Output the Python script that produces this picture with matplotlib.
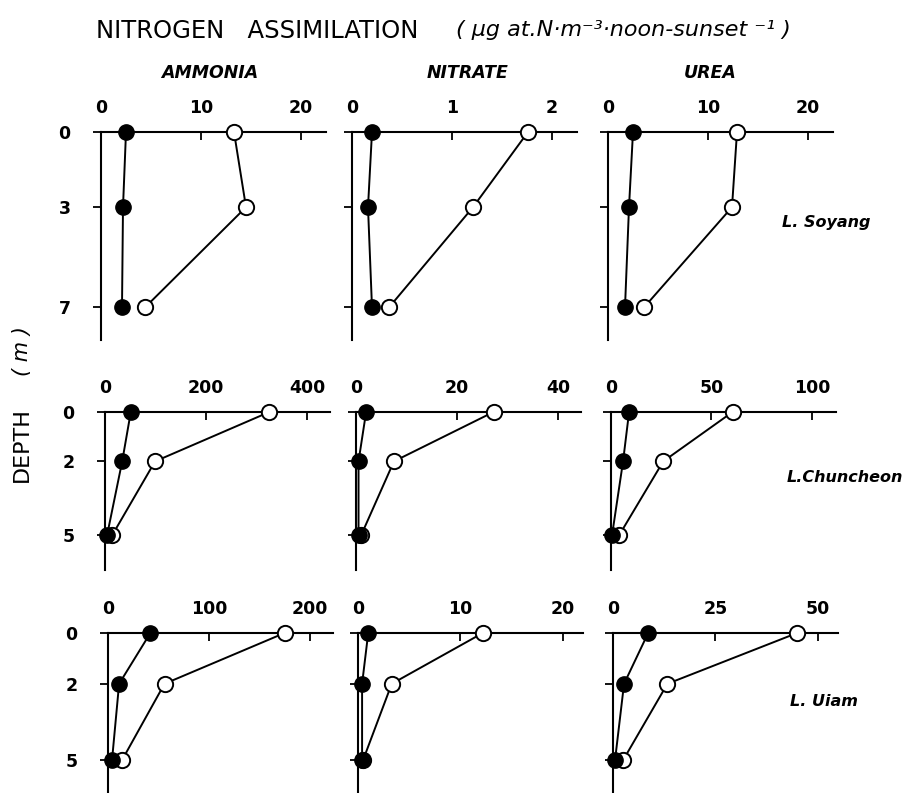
import matplotlib
matplotlib.use("Agg")
import matplotlib.pyplot as plt

W, H = 908, 793

# ---- data ----
depth_soyang = [0, 3, 7]
depth_chuncheon = [0, 2, 5]
depth_uiam = [0, 2, 5]

ammonia_soyang_filled = [2.5, 2.2, 2.1]
ammonia_soyang_open = [13.3, 14.5, 4.4]
nitrate_soyang_filled = [0.2, 0.16, 0.2]
nitrate_soyang_open = [1.76, 1.21, 0.37]
urea_soyang_filled = [2.5, 2.1, 1.7]
urea_soyang_open = [12.9, 12.4, 3.6]

ammonia_chuncheon_filled = [51, 34, 4]
ammonia_chuncheon_open = [325, 99, 14]
nitrate_chuncheon_filled = [2.0, 0.5, 0.5]
nitrate_chuncheon_open = [27.2, 7.5, 1.0]
urea_chuncheon_filled = [9, 6, 0.5]
urea_chuncheon_open = [60.5, 26, 4]

ammonia_uiam_filled = [42, 11, 4]
ammonia_uiam_open = [175, 56, 14]
nitrate_uiam_filled = [1.0, 0.4, 0.4]
nitrate_uiam_open = [12.2, 3.3, 0.5]
urea_uiam_filled = [8.6, 2.7, 0.5]
urea_uiam_open = [45, 13.3, 2.5]

columns = ["AMMONIA", "NITRATE", "UREA"]
lakes = ["L. Soyang", "L.Chuncheon", "L. Uiam"]

x_ticks = [
    [[0, 10, 20], [0, 1, 2], [0, 10, 20]],
    [[0, 200, 400], [0, 20, 40], [0, 50, 100]],
    [[0, 100, 200], [0, 10, 20], [0, 25, 50]],
]
x_max = [
    [22.5, 2.25, 22.5],
    [445, 44.5, 112],
    [223, 22, 55],
]
depth_max = [8.3, 6.4, 6.3]

rows = [
    (depth_soyang, [(ammonia_soyang_filled, ammonia_soyang_open),
                    (nitrate_soyang_filled, nitrate_soyang_open),
                    (urea_soyang_filled, urea_soyang_open)]),
    (depth_chuncheon, [(ammonia_chuncheon_filled, ammonia_chuncheon_open),
                       (nitrate_chuncheon_filled, nitrate_chuncheon_open),
                       (urea_chuncheon_filled, urea_chuncheon_open)]),
    (depth_uiam, [(ammonia_uiam_filled, ammonia_uiam_open),
                  (nitrate_uiam_filled, nitrate_uiam_open),
                  (urea_uiam_filled, urea_uiam_open)]),
]

# ---- layout (pixels) ----
row_top = [132, 412, 633]
row_bot = [340, 570, 793]
col_left = [[101, 352, 608], [105, 356, 611], [108, 358, 613]]
ax_w = 225

plt.rcParams['font.family'] = ['DejaVu Sans']
fig = plt.figure(figsize=(W / 100, H / 100), dpi=100)

for r, (depths, series) in enumerate(rows):
    for c, (filled, opened) in enumerate(series):
        l = col_left[r][c]
        ax = fig.add_axes([l / W, 1 - row_bot[r] / H, ax_w / W,
                           (row_bot[r] - row_top[r]) / H])
        ax.plot(opened, depths, '-', color='black', lw=1.4, marker='o',
                ms=11, mfc='white', mec='black', mew=1.4, zorder=3,
                clip_on=False)
        ax.plot(filled, depths, '-', color='black', lw=1.4, marker='o',
                ms=11, mfc='black', mec='black', zorder=4, clip_on=False)
        ax.set_xlim(0, x_max[r][c])
        ax.set_ylim(depth_max[r], 0)
        for s in ['right', 'bottom']:
            ax.spines[s].set_visible(False)
        for s in ['top', 'left']:
            ax.spines[s].set_linewidth(1.5)
        ax.xaxis.tick_top()
        ax.set_xticks(x_ticks[r][c])
        ax.tick_params(axis='x', direction='in', length=6, width=1.3,
                       pad=11, labelsize=12.5)
        ax.set_yticks(depths)
        ax.tick_params(axis='y', direction='out', length=6, width=1.3,
                       pad=16, labelsize=12.5, labelleft=(c == 0))
        for lab in ax.get_xticklabels() + ax.get_yticklabels():
            lab.set_fontweight('bold')
        ax.patch.set_alpha(0)

fig.text(96 / W, 1 - 31 / H, "NITROGEN   ASSIMILATION", fontsize=17.5,
         ha='left', va='center')
fig.text(456 / W, 1 - 30 / H, "( µg at.N·m⁻³·noon-sunset ⁻¹ )",
         fontsize=16, style='italic', ha='left', va='center')

for x, name in zip([210, 468, 710], columns):
    fig.text(x / W, 1 - 73 / H, name, fontsize=12.5, style='italic',
             fontweight='bold', ha='center', va='center')

for (x, y), name in zip([(826, 223), (845, 477), (824, 702)], lakes):
    fig.text(x / W, 1 - y / H, name, fontsize=11.5, style='italic',
             fontweight='bold', ha='center', va='center')

fig.text(22 / W, 1 - 445 / H, "DEPTH", fontsize=16, rotation=90,
         ha='center', va='center')
fig.text(22 / W, 1 - 351 / H, "( m )", fontsize=15, rotation=90,
         style='italic', ha='center', va='center')

fig.savefig("out.png", dpi=100)
